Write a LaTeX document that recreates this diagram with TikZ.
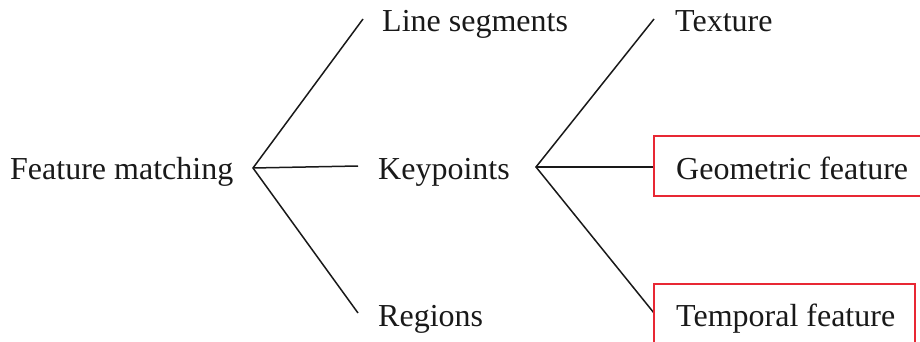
\documentclass[tikz,border=0pt]{standalone}
\usepackage{fontspec}
\setmainfont{Liberation Serif}
\definecolor{boxred}{RGB}{232,40,52}
\begin{document}
\begin{tikzpicture}[x=1pt,y=-1pt,
  lbl/.style={anchor=base west,inner sep=0pt,font=\fontsize{32}{38}\selectfont,text=black!90},
  link/.style={draw=black!90,line width=1.5pt},
  redbox/.style={draw=boxred,line width=2pt}]
\useasboundingbox (0,0) rectangle (920,342);
\node[lbl] (fm) at (10,179) {Feature matching};
\node[lbl] (ls) at (382,32) {Line segments};
\node[lbl] (kp) at (378,179) {Keypoints};
\node[lbl] (rg) at (378,326) {Regions};
\node[lbl] (tx) at (675,32) {Texture};
\node[lbl] (gf) at (676,179) {Geometric feature};
\node[lbl] (tf) at (676,326) {Temporal feature};
\coordinate (f1) at (253,168);
\coordinate (e1a) at (363,19);
\coordinate (e1b) at (358,166);
\coordinate (e1c) at (358,313);
\coordinate (f2) at (536,167);
\coordinate (e2a) at (654,19);
\coordinate (e2b) at (654,167);
\coordinate (e2c) at (654,313);
\draw[link] (e1a) -- (f1) -- (e1c);
\draw[link] (f1) -- (e1b);
\draw[link] (e2a) -- (f2) -- (e2c);
\draw[link] (f2) -- (e2b);
\draw[redbox] (654,136) rectangle (926,196);
\draw[redbox] (654,284) rectangle (915,348);
\end{tikzpicture}
\end{document}
